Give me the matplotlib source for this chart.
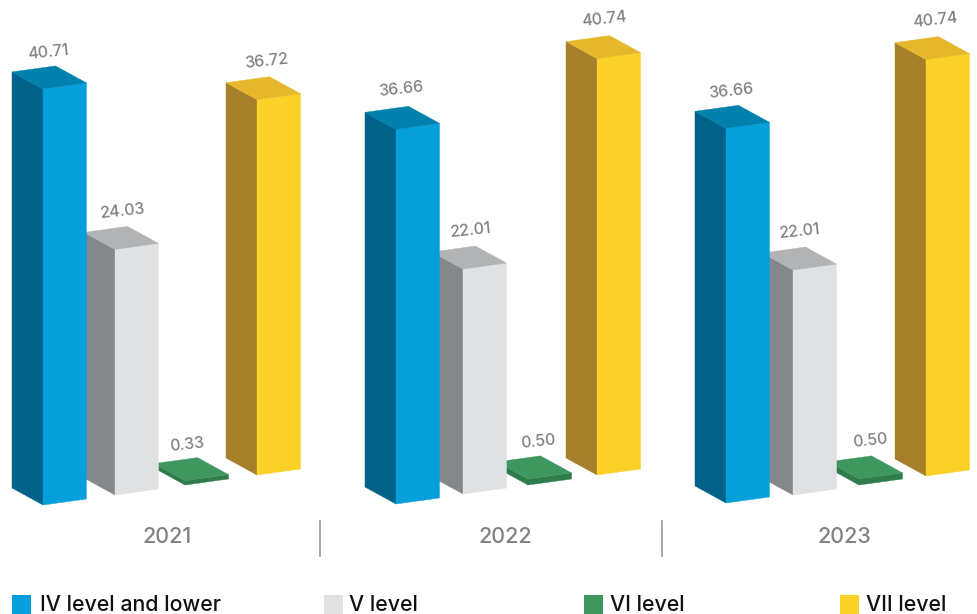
import numpy as np
import matplotlib
matplotlib.use("Agg")
import matplotlib.pyplot as plt

plt.rcParams['font.family'] = ['Inter', 'DejaVu Sans']

years = ["2021", "2022", "2023"]
levels = ["IV level and lower", "V level", "VI level", "VII level"]

iv_level = [40.71, 36.66, 36.66]
v_level = [24.03, 22.01, 22.01]
vi_level = [0.33, 0.50, 0.50]
vii_level = [36.72, 40.74, 40.74]

# colours per level: front, side, top
front_colors = ["#05A0DC", "#E0E1E3", "#3E975F", "#FBD027"]
side_colors = ["#006289", "#85888B", "#2F7B4C", "#A57F29"]
top_colors = ["#0080AD", "#B1B3B5", "#3E975F", "#E6B72B"]

# layout in pixels, one row per year, one column per level
corner_x = np.array([[43, 115, 185, 257], [396, 463, 528, 597], [726, 793, 859, 926]])
base_y = np.array([[505, 495, 485, 475], [504, 494, 485, 475], [503, 495, 485, 476]])
label_dx = np.array([[5, 8, 2, 9], [5, 8, 10, 7], [5, 7, 11, 9]])
label_dy = np.array([[-37, -38, -36, -38], [-40, -39, -37, -39], [-37, -39, -38, -39]])

px_per_unit = 10.22
front_w = 43.5
depth_x = 31
depth_y = 17
rise = 6

year_x = [167, 505, 844]
divider_x = [320, 662]
legend_x = [12, 324, 584, 840]
legend_text_dx = [28, 25, 26, 26]


def draw_bar(ax, x, base, value, i):
    h = value * px_per_unit
    if i == 2:
        h += 1  # thin bars still show a rim
    top = base - h
    xl, xr = x - depth_x, x + front_w
    # side, front and top faces
    ax.fill([xl, x, x, xl], [base - depth_y, base, top, top - depth_y],
            color=side_colors[i], lw=0.3)
    ax.fill([x, xr, xr, x], [base, base - rise, top - rise, top],
            color=side_colors[i] if i == 2 else front_colors[i], lw=0.3)
    ax.fill([xl, x, xr, xl + front_w], [top - depth_y, top, top - rise, top - depth_y - rise],
            color=top_colors[i], lw=0.3)
    return top


fig = plt.figure(figsize=(9.78, 6.14), dpi=100)
ax = fig.add_axes([0, 0, 1, 1])
ax.set_xlim(0, 978)
ax.set_ylim(614, 0)
ax.axis("off")

series = [iv_level, v_level, vi_level, vii_level]

for y in range(len(years)):
    # right to left so the nearer bar covers the next one
    for i in range(3, -1, -1):
        value = series[i][y]
        top = draw_bar(ax, corner_x[y][i], base_y[y][i], value, i)
        ax.text(corner_x[y][i] + label_dx[y][i], top + label_dy[y][i], "%.2f" % value,
                ha="center", va="center", rotation=6, rotation_mode="anchor",
                fontsize=11.5, color="#808285", fontweight="medium", zorder=5)
    ax.text(year_x[y], 537, years[y], ha="center", va="center", fontsize=15.5,
            color="#808285", fontweight="medium")

for x in divider_x:
    ax.plot([x, x], [521, 556], color="#9A9A9A", lw=1.2)

for i in range(len(levels)):
    ax.fill([legend_x[i], legend_x[i] + 19, legend_x[i] + 19, legend_x[i]],
            [595, 595, 616, 616], color=front_colors[i], lw=0)
    ax.text(legend_x[i] + legend_text_dx[i], 605, levels[i], ha="left", va="center",
            fontsize=15.4, color="#111111", fontweight="medium")

fig.savefig("out.png", dpi=100)
